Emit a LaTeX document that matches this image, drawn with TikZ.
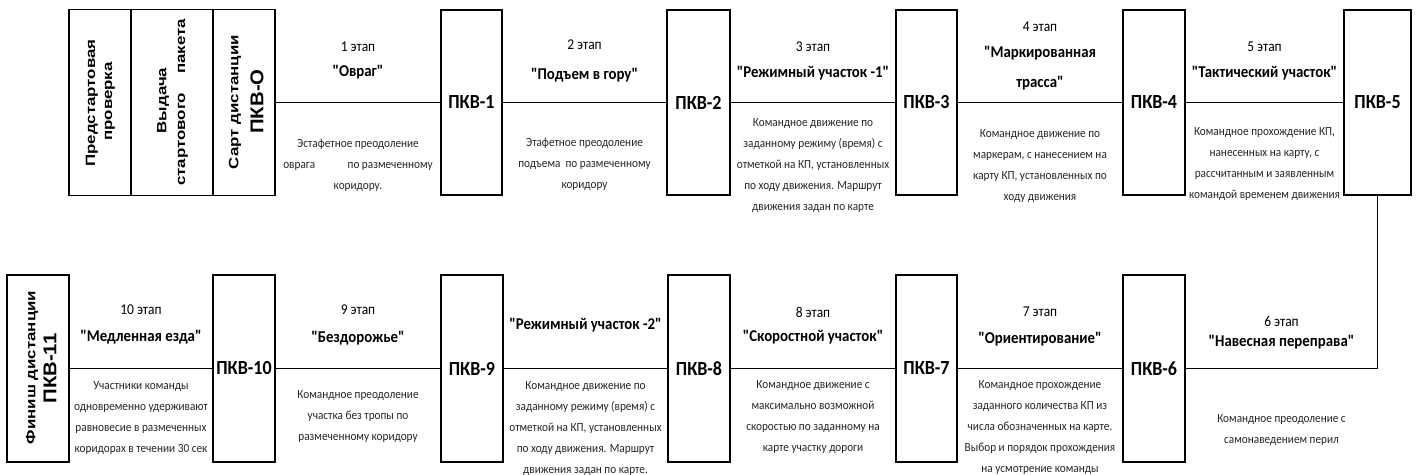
\documentclass[tikz,border=0pt]{standalone}
\usepackage{fontspec}
\setmainfont{Carlito}[Ligatures=TeXOff, FakeStretch=0.9]
\newfontfamily\arialf{Liberation Sans}[Ligatures=TeXOff, FakeStretch=1.25]
\newfontfamily\arialbig{Liberation Sans}[Ligatures=TeXOff, FakeStretch=1.1]
\begin{document}
\begin{tikzpicture}[x=1pt,y=-1pt,
  box/.style={draw, line width=1.6pt, inner sep=0pt, minimum height=185pt},
  pkvlabel/.style={font=\bfseries\fontsize{20}{20}\selectfont},
  vtext/.style={rotate=90, inner sep=0pt, font=\arialf\bfseries\fontsize{13.5}{13.5}\selectfont},
  vbig/.style={rotate=90, inner sep=0pt, font=\arialbig\bfseries\fontsize{18.5}{18.5}\selectfont},
  stagenum/.style={inner sep=0pt, font=\fontsize{15}{15}\selectfont},
  stagetitle/.style={inner sep=0pt, align=center, font=\bfseries\fontsize{16.5}{30}\selectfont},
  desc/.style={inner sep=0pt, align=center, text=black!85, font=\fontsize{12.5}{21}\selectfont},
  conn/.style={line width=1.6pt}
]
\useasboundingbox (0,0) rectangle (1418,474);

% ---- top-left start group ----
\node[box, minimum width=62pt, minimum height=186pt] (g1) at (100,102.5) {};
\node[box, minimum width=82pt, minimum height=186pt] (g2) at (172,102.5) {};
\node[box, minimum width=62pt, minimum height=186pt] (g3) at (244,102.5) {};
\node[vtext] (g1a) at (92,103) {Предстартовая};
\node[vtext] (g1b) at (110,101.5) {проверка};
\node[vtext] (g2a) at (163,100.5) {Выдача};
\node[vtext] (g2b) at (183,102.5) {стартового\hspace{1.4em}пакета};
\node[vtext] (g3a) at (235,102) {Сарт дистанции};
\node[vbig] (g3b) at (257,101.5) {ПКВ-О};

% ---- top row checkpoints ----
\node[box, minimum width=61pt] (p1) at (471.5,102.5) {};
\node[pkvlabel] at (p1) {ПКВ-1};
\node[box, minimum width=63pt] (p2) at (698.5,102.5) {};
\node[pkvlabel] at (p2) {ПКВ-2};
\node[box, minimum width=61pt] (p3) at (926.5,102.5) {};
\node[pkvlabel] at (p3) {ПКВ-3};
\node[box, minimum width=62pt] (p4) at (1154,102.5) {};
\node[pkvlabel] at (p4) {ПКВ-4};
\node[box, minimum width=67pt] (p5) at (1377.5,102.5) {};
\node[pkvlabel] at (p5) {ПКВ-5};

% ---- bottom row checkpoints ----
\node[box, minimum width=62pt, minimum height=187pt] (p6) at (1154,368.5) {};
\node[pkvlabel] at (p6) {ПКВ-6};
\node[box, minimum width=61pt, minimum height=187pt] (p7) at (926.5,368.5) {};
\node[pkvlabel] at (p7) {ПКВ-7};
\node[box, minimum width=62pt, minimum height=187pt] (p8) at (699,368.5) {};
\node[pkvlabel] at (p8) {ПКВ-8};
\node[box, minimum width=62pt, minimum height=187pt] (p9) at (472,368.5) {};
\node[pkvlabel] at (p9) {ПКВ-9};
\node[box, minimum width=62pt, minimum height=187pt] (p10) at (244,368.5) {};
\node[pkvlabel] at (p10) {ПКВ-10};
\node[box, minimum width=62pt, minimum height=187pt] (p11) at (38,368.5) {};
\node[vtext] (p11a) at (32,367.5) {Финиш дистанции};
\node[vbig] (p11b) at (50,368.5) {ПКВ-11};

% ---- connectors ----
\draw[conn] (g3.east) -- (p1.west);
\draw[conn] (p1.east) -- (p2.west);
\draw[conn] (p2.east) -- (p3.west);
\draw[conn] (p3.east) -- (p4.west);
\draw[conn] (p4.east) -- (p5.west);
\draw[conn] (p5.south) |- (p6.east);
\draw[conn] (p6.west) -- (p7.east);
\draw[conn] (p7.west) -- (p8.east);
\draw[conn] (p8.west) -- (p9.east);
\draw[conn] (p9.west) -- (p10.east);
\draw[conn] (p10.west) -- (p11.east);

% ---- top row stages ----
\node[stagenum] (s1n) at (358,47) {1 этап};
\node[stagetitle] (s1t) at (358,72) {"Овраг"};
\node[desc] (s1d) at (358,165) {Эстафетное преодоление\\оврага\hspace{2.6em}по размеченному\\коридору.};

\node[stagenum] (s2n) at (584.5,45) {2 этап};
\node[stagetitle] (s2t) at (584.5,75) {"Подъем в гору"};
\node[desc] (s2d) at (584.5,164) {Этафетное преодоление\\подъема\ \ по размеченному\\коридору};

\node[stagenum] (s3n) at (813,47) {3 этап};
\node[stagetitle] (s3t) at (813,73) {"Режимный участок -1"};
\node[desc] (s3d) at (813,165.5) {Командное движение по\\заданному режиму (время) с\\отметкой на КП, установленных\\по ходу движения. Маршрут\\движения задан по карте};

\node[stagenum] (s4n) at (1040,27) {4 этап};
\node[stagetitle] (s4t) at (1040,68) {"Маркированная\\трасса"};
\node[desc] (s4d) at (1040,166) {Командное движение по\\маркерам, с нанесением на\\карту КП, установленных по\\ходу движения};

\node[stagenum] (s5n) at (1264.5,47) {5 этап};
\node[stagetitle] (s5t) at (1264.5,73) {"Тактический участок"};
\node[desc] (s5d) at (1264.5,164) {Командное прохождение КП,\\нанесенных на карту, с\\рассчитанным и заявленным\\командой временем движения};

% ---- bottom row stages ----
\node[stagenum] (s10n) at (141,310) {10 этап};
\node[stagetitle] (s10t) at (141,337) {"Медленная езда"};
\node[desc] (s10d) at (141,418) {Участники команды\\одновременно удерживают\\равновесие в размеченных\\коридорах в течении 30 сек};

\node[stagenum] (s9n) at (358,310) {9 этап};
\node[stagetitle] (s9t) at (358,338) {"Бездорожье"};
\node[desc] (s9d) at (358,417) {Командное преодоление\\участка без тропы по\\размеченному коридору};

\node[stagetitle] (sr2t) at (585.5,325) {"Режимный участок -2"};
\node[desc] (sr2d) at (585.5,428.5) {Командное движение по\\заданному режиму (время) с\\отметкой на КП, установленных\\по ходу движения. Маршрут\\движения задан по карте.};

\node[stagenum] (s8n) at (813,312) {8 этап};
\node[stagetitle] (s8t) at (813,337) {"Скоростной участок"};
\node[desc] (s8d) at (813,417.5) {Командное движение с\\максимально возможной\\скоростью по заданному на\\карте участку дороги};

\node[stagenum] (s7n) at (1040,312) {7 этап};
\node[stagetitle] (s7t) at (1040,339) {"Ориентирование"};
\node[desc] (s7d) at (1040,428) {Командное прохождение\\заданного количества КП из\\числа обозначенных на карте.\\Выбор и порядок прохождения\\на усмотрение команды};

\node[stagenum] (s6n) at (1281.5,321) {6 этап};
\node[stagetitle] (s6t) at (1281.5,342) {"Навесная переправа"};
\node[desc] (s6d) at (1281.5,430) {Командное преодоление с\\самонаведением перил};
\end{tikzpicture}
\end{document}
